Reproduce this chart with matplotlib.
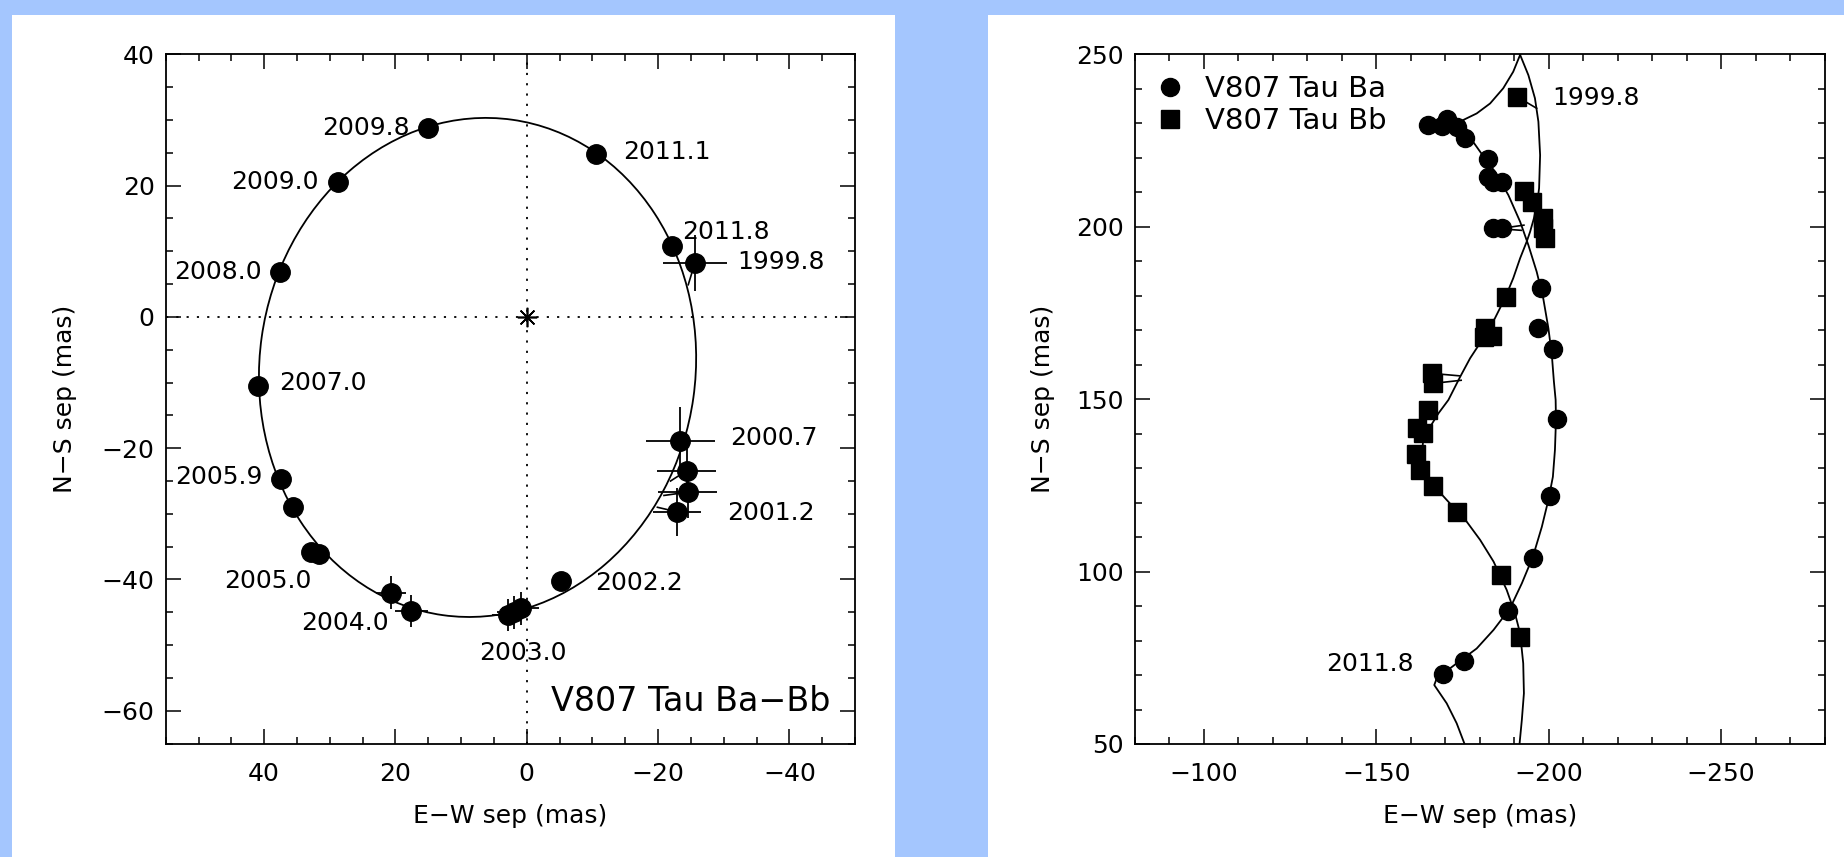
import matplotlib
matplotlib.use("Agg")
import matplotlib.pyplot as plt
from matplotlib.patches import Ellipse, Rectangle
from matplotlib.ticker import MultipleLocator

plt.rcParams['font.family'] = ['DejaVu Sans']
plt.rcParams['axes.unicode_minus'] = True

# ---- V807 Tau Ba-Bb relative orbit (mas) ----
rel_x = [15.0, 28.8, 37.6, 40.9, -10.5, -22.1, -25.6, -23.4, -24.4, -24.5,
         -22.9, -5.2, 2.8, 2.0, 0.9, 20.7, 17.6, 32.8, 31.7, 37.5, 35.6]
rel_y = [28.8, 20.6, 6.8, -10.5, 24.8, 10.8, 8.2, -18.9, -23.4, -26.7,
         -29.7, -40.2, -45.4, -45.0, -44.4, -42.0, -44.8, -35.8, -36.1, -24.7, -28.9]
rel_xerr = [0, 0, 0, 0, 0, 0, 4.9, 5.3, 4.5, 4.5,
            3.7, 0, 2.5, 2.5, 2.8, 2.3, 2.5, 0, 0, 0, 0]
rel_yerr = [0, 0, 0, 0, 0, 0, 4.3, 5.2, 4.0, 4.0,
            3.7, 0, 2.5, 2.5, 2.5, 2.5, 2.5, 0, 0, 0, 0]

# observed -> predicted residual segments
oc_obs_x = [-25.6, -24.4, -24.5, -22.9]
oc_obs_y = [8.2, -23.4, -26.7, -29.7]
oc_fit_x = [-24.6, -21.9, -20.9, -19.9]
oc_fit_y = [4.9, -25.0, -27.2, -29.0]

# fitted orbit
orbit_center = (7.5, -7.7)
orbit_width = 66.4
orbit_height = 76.2
orbit_angle = 8.0

epoch_labels = ['2009.8', '2009.0', '2008.0', '2007.0', '2011.1', '2011.8', '1999.8',
                '2000.7', '2001.2', '2002.2', '2003.0', '2004.0', '2005.0', '2005.9']
epoch_lx = [17.9, 31.7, 40.4, 37.7, -14.7, -23.7, -32.0, -31.0, -30.5, -10.4, 0.6, 21.0, 32.8, 40.3]
epoch_ly = [28.8, 20.6, 6.9, -10.1, 25.1, 13.0, 8.4, -18.5, -29.9, -40.6, -51.2, -46.7, -40.2, -24.4]
epoch_ha = ['right', 'right', 'right', 'left', 'left', 'left', 'left',
            'left', 'left', 'left', 'center', 'right', 'right', 'right']

# ---- positions of Ba and Bb relative to A (mas) ----
ba_x = [-165.1, -169.0, -170.6, -173.3, -175.7, -182.3, -182.5, -183.9, -186.4,
        -183.8, -186.4, -197.8, -197.0, -201.2, -202.3, -200.4, -195.4, -188.3,
        -175.5, -169.4]
ba_y = [229.6, 229.3, 231.3, 229.1, 225.9, 219.7, 214.6, 212.9, 212.9,
        199.6, 199.6, 182.4, 170.6, 164.6, 144.2, 122.0, 103.9, 88.7,
        74.1, 70.3]

bb_x = [-190.7, -192.7, -195.1, -198.4, -198.3, -198.9, -187.6, -181.5, -183.5,
        -181.2, -166.1, -166.5, -165.1, -161.7, -163.6, -161.5, -162.7, -166.5,
        -173.5, -186.1, -191.7]
bb_y = [237.8, 210.4, 207.3, 202.5, 199.6, 196.7, 179.7, 170.6, 168.3,
        168.1, 157.5, 154.6, 146.9, 141.6, 140.1, 134.0, 129.5, 124.8,
        117.2, 99.0, 81.1]
bb_err = [1.4, 1.4, 1.3, 1.4, 1.3, 1.4, 0, 0, 0,
          0, 0, 0, 0, 0, 0, 0, 0, 0,
          0, 0, 0]

# model tracks
ba_track_x = [-191.7, -189.7, -186.8, -183.0, -179.1, -175.2, -176.7, -180.1, -184.4,
              -188.3, -191.7, -194.1, -196.5, -198.4, -199.9, -200.9, -201.5, -202.0,
              -202.1, -201.8, -201.2, -199.9, -198.0, -195.4, -192.2, -188.8, -184.0,
              -179.1, -173.3, -167.5, -166.8, -170.4, -173.3, -175.7]
ba_track_y = [249.9, 245.0, 240.2, 235.8, 232.9, 231.0, 226.6, 221.8, 216.0,
              209.2, 201.5, 194.7, 187.0, 179.3, 170.6, 162.8, 155.1, 149.8,
              144.0, 135.3, 127.5, 120.8, 113.0, 104.3, 96.6, 89.4, 83.1,
              77.7, 73.4, 69.0, 67.1, 61.8, 56.0, 49.7]
bb_track_x = [-191.7, -194.1, -196.0, -197.0, -197.5, -197.2, -196.7, -195.7, -194.6,
              -193.6, -191.7, -189.7, -187.3, -184.4, -181.0, -177.2, -174.3, -170.9,
              -168.0, -165.6, -163.6, -163.2, -164.1, -166.5, -170.4, -176.2, -180.1,
              -184.0, -187.8, -190.2, -191.7, -192.6, -192.8, -192.2, -191.5]
bb_track_y = [249.9, 244.0, 237.3, 230.5, 220.8, 211.2, 207.3, 202.5, 198.6,
              195.7, 190.9, 185.1, 179.3, 173.5, 167.7, 161.9, 156.5, 149.8,
              145.9, 142.0, 138.2, 134.3, 129.5, 125.1, 120.8, 114.5, 109.2,
              102.9, 94.7, 87.9, 82.1, 73.4, 64.7, 57.0, 49.7]

ab_oc_obs_x = [-190.7, -183.8, -186.4, -166.1, -166.5]
ab_oc_obs_y = [237.8, 199.6, 199.6, 157.5, 154.6]
ab_oc_fit_x = [-196.5, -192.0, -192.8, -174.0, -174.6]
ab_oc_fit_y = [234.4, 199.0, 200.5, 156.8, 155.5]

fig = plt.figure(figsize=(18.44, 8.57), dpi=100)
fig.patch.set_facecolor('#a4c6fe')
# white panels behind each plot
for px, pw in [(0.00651, 0.47885), (0.53579, 0.46421)]:
    fig.add_artist(Rectangle((px, 0.0), pw, 0.9825, transform=fig.transFigure,
                             facecolor='white', edgecolor='none', zorder=-5))

ax1 = fig.add_axes([0.08986, 0.13232, 0.37381, 0.80432])
ax2 = fig.add_axes([0.61551, 0.13186, 0.37395, 0.80455])


def style_axes(ax):
    for s in ax.spines.values():
        s.set_linewidth(1.3)
    ax.tick_params(which='both', direction='in', top=True, right=True,
                   labelsize=18, width=1.1)
    ax.tick_params(which='major', length=11)
    ax.tick_params(which='minor', length=5)
    ax.tick_params(axis='x', pad=13)
    ax.tick_params(axis='y', pad=8)


# left: relative orbit
ax1.set_xlim(55, -50)
ax1.set_ylim(-65, 40)
ax1.xaxis.set_major_locator(MultipleLocator(20))
ax1.xaxis.set_minor_locator(MultipleLocator(5))
ax1.yaxis.set_major_locator(MultipleLocator(20))
ax1.yaxis.set_minor_locator(MultipleLocator(5))
style_axes(ax1)

ax1.axhline(0, color='black', lw=1.3, dashes=(1.2, 4.5))
ax1.axvline(0, color='black', lw=1.3, dashes=(1.2, 4.5))
ax1.plot([0], [0], marker=(8, 2, 0), color='black', ms=14, mew=1.2)

ax1.add_patch(Ellipse(orbit_center, orbit_width, orbit_height, angle=orbit_angle,
                      fill=False, edgecolor='black', lw=1.3))
for x0, y0, x1, y1 in zip(oc_obs_x, oc_obs_y, oc_fit_x, oc_fit_y):
    ax1.plot([x0, x1], [y0, y1], color='black', lw=1.2)
ax1.errorbar(rel_x, rel_y, xerr=rel_xerr, yerr=rel_yerr, fmt='o', color='black',
             ms=14, elinewidth=1.3, capsize=0, zorder=3)

for t, x, y, ha in zip(epoch_labels, epoch_lx, epoch_ly, epoch_ha):
    ax1.text(x, y, t, ha=ha, va='center', fontsize=18)
ax1.text(-46.2, -58.6, 'V807 Tau Ba\u2212Bb', ha='right', va='center', fontsize=24)

ax1.set_xlabel('E\u2212W sep (mas)', fontsize=18, labelpad=13)
ax1.set_ylabel('N\u2212S sep (mas)', fontsize=18, labelpad=18)

# right: Ba and Bb relative to A
ax2.set_xlim(-80, -280)
ax2.set_ylim(50, 250)
ax2.xaxis.set_major_locator(MultipleLocator(50))
ax2.xaxis.set_minor_locator(MultipleLocator(10))
ax2.yaxis.set_major_locator(MultipleLocator(50))
ax2.yaxis.set_minor_locator(MultipleLocator(10))
style_axes(ax2)

ax2.plot(ba_track_x, ba_track_y, color='black', lw=1.3)
ax2.plot(bb_track_x, bb_track_y, color='black', lw=1.3)
for x0, y0, x1, y1 in zip(ab_oc_obs_x, ab_oc_obs_y, ab_oc_fit_x, ab_oc_fit_y):
    ax2.plot([x0, x1], [y0, y1], color='black', lw=1.2)
ax2.errorbar(bb_x, bb_y, xerr=bb_err, yerr=bb_err, fmt='none', ecolor='black',
             elinewidth=1.3, capsize=0, zorder=3)
ax2.plot(ba_x, ba_y, 'o', color='black', ms=13, label='V807 Tau Ba', zorder=4)
ax2.plot(bb_x, bb_y, 's', color='black', ms=13, label='V807 Tau Bb', zorder=4)

ax2.text(-200.9, 237.4, '1999.8', ha='left', va='center', fontsize=18)
ax2.text(-160.9, 73.2, '2011.8', ha='right', va='center', fontsize=18)

ax2.legend(loc='upper left', bbox_to_anchor=(0, 1), borderaxespad=0, frameon=False,
           fontsize=21, handlelength=1.0, handletextpad=0.7, borderpad=0.7,
           labelspacing=0.15, markerscale=1.0)

ax2.set_xlabel('E\u2212W sep (mas)', fontsize=18, labelpad=13)
ax2.set_ylabel('N\u2212S sep (mas)', fontsize=18, labelpad=15)

fig.savefig('out.png', dpi=100, facecolor=fig.get_facecolor())
